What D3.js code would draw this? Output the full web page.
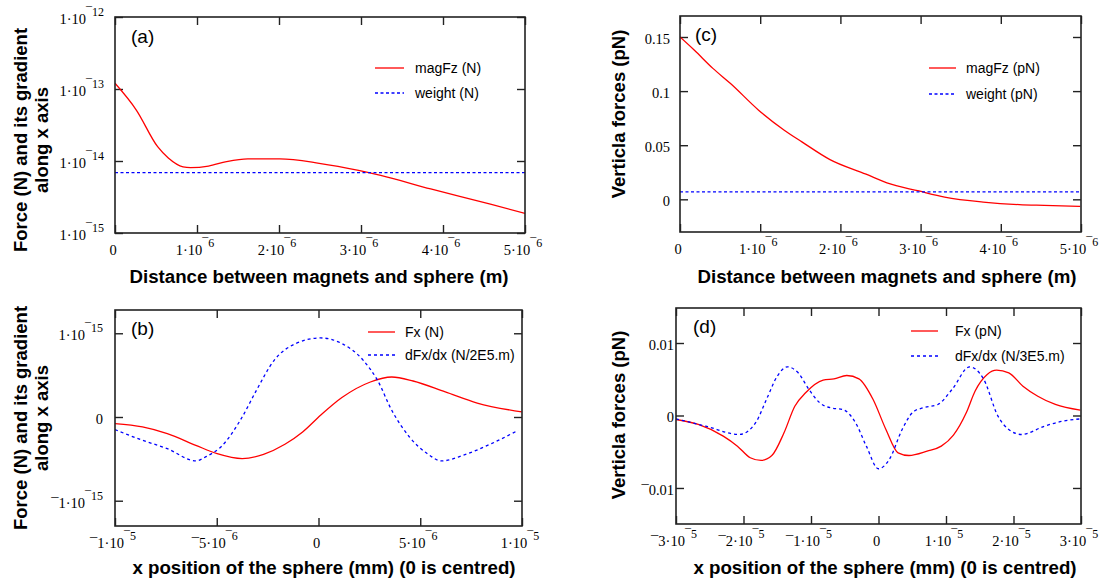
<!DOCTYPE html>
<html><head><meta charset="utf-8">
<script src="https://cdn.jsdelivr.net/npm/d3@7"></script>
<style>body{margin:0;background:#fff}svg{display:block}</style>
</head><body><svg id="c" width="1104" height="581"></svg>
<script>
// ---------- DATA ----------
// (a) magnetic vertical force vs distance (N, log axis)
const aDist = [0, 0.26e-6, 0.52e-6, 0.65e-6, 0.83e-6, 0.92e-6, 1.14e-6, 1.36e-6, 1.62e-6, 2.01e-6, 2.49e-6, 2.97e-6, 3.24e-6, 3.85e-6, 4.59e-6, 5.0e-6];
const aMagFz = [1.2e-13, 5.1e-14, 1.58e-14, 1.1e-14, 8.3e-15, 8.1e-15, 8.5e-15, 9.8e-15, 1.07e-14, 1.07e-14, 9.3e-15, 7.4e-15, 6.3e-15, 4.1e-15, 2.5e-15, 1.87e-15];
const aWeightDist = [0, 5e-6];
const aWeight = [6.9e-15, 6.9e-15];
const aXTicks = [0, 1e-6, 2e-6, 3e-6, 4e-6, 5e-6];
const aXLabels = [["0",""],["1·10","¯6"],["2·10","¯6"],["3·10","¯6"],["4·10","¯6"],["5·10","¯6"]];
const aYTicks = [1e-15, 1e-14, 1e-13, 1e-12];
const aYLabels = [["1·10","¯15"],["1·10","¯14"],["1·10","¯13"],["1·10","¯12"]];

// (b) Fx and dFx/dx vs x position (N)
const bXFx = [-10e-6, -8.65e-6, -7.43e-6, -6.03e-6, -4.98e-6, -3.75e-6, -2.70e-6, -1.65e-6, -0.78e-6, 0.10e-6, 1.15e-6, 2.55e-6, 3.60e-6, 4.65e-6, 6.23e-6, 7.80e-6, 9.99e-6];
const bFx = [-0.079e-15, -0.119e-15, -0.199e-15, -0.338e-15, -0.438e-15, -0.497e-15, -0.446e-15, -0.326e-15, -0.179e-15, 0.02e-15, 0.232e-15, 0.418e-15, 0.478e-15, 0.430e-15, 0.299e-15, 0.167e-15, 0.060e-15];
const bXGrad = [-10e-6, -8.65e-6, -7.43e-6, -6.03e-6, -5.50e-6, -4.80e-6, -3.75e-6, -3.05e-6, -2.18e-6, -1.12e-6, 0.10e-6, 1.15e-6, 2.20e-6, 2.90e-6, 3.60e-6, 4.47e-6, 5.35e-6, 6.05e-6, 7.10e-6, 8.50e-6, 9.81e-6];
const bGrad = [-0.151e-15, -0.278e-15, -0.378e-15, -0.525e-15, -0.470e-15, -0.358e-15, 0, 0.319e-15, 0.677e-15, 0.877e-15, 0.944e-15, 0.877e-15, 0.677e-15, 0.438e-15, 0.080e-15, -0.239e-15, -0.438e-15, -0.525e-15, -0.458e-15, -0.318e-15, -0.159e-15];
const bXTicks = [-1e-5, -5e-6, 0, 5e-6, 1e-5];
const bXLabels = [["¯1·10","¯5"],["¯5·10","¯6"],["0",""],["5·10","¯6"],["1·10","¯5"]];
const bYTicks = [-1e-15, 0, 1e-15];
const bYLabels = [["¯1·10","¯15"],["0",""],["1·10","¯15"]];

// (c) magnetic vertical force vs distance (pN)
const cDist = [0, 0.18e-6, 0.41e-6, 0.63e-6, 0.98e-6, 1.30e-6, 1.52e-6, 1.87e-6, 2.32e-6, 2.58e-6, 2.98e-6, 3.30e-6, 3.78e-6, 4.23e-6, 4.54e-6, 4.99e-6];
const cMagFz = [0.15, 0.1377, 0.121, 0.107, 0.0824, 0.0639, 0.0531, 0.0367, 0.0232, 0.0151, 0.0077, 0.0021, -0.0025, -0.0049, -0.0056, -0.0065];
const cWeightDist = [0, 5e-6];
const cWeight = [0.0068, 0.0068];
const cXTicks = [0, 1e-6, 2e-6, 3e-6, 4e-6, 5e-6];
const cXLabels = [["0",""],["1·10","¯6"],["2·10","¯6"],["3·10","¯6"],["4·10","¯6"],["5·10","¯6"]];
const cYTicks = [0, 0.05, 0.1, 0.15];
const cYLabels = [["0",""],["0.05",""],["0.1",""],["0.15",""]];

// (d) Fx and dFx/dx vs x position (pN)
const dXFx = [-3.0e-5, -2.67e-5, -2.30e-5, -2.09e-5, -1.90e-5, -1.74e-5, -1.58e-5, -1.40e-5, -1.24e-5, -1.08e-5, -0.82e-5, -0.66e-5, -0.47e-5, -0.29e-5, -0.08e-5, 0.11e-5, 0.29e-5, 0.45e-5, 0.72e-5, 0.93e-5, 1.11e-5, 1.30e-5, 1.43e-5, 1.61e-5, 1.75e-5, 1.93e-5, 2.14e-5, 2.36e-5, 2.62e-5, 2.99e-5];
const dFx = [-0.00055, -0.00124, -0.00285, -0.00423, -0.00583, -0.0062, -0.00552, -0.00239, 0.00128, 0.00313, 0.00487, 0.00506, 0.00552, 0.00506, 0.00221, -0.00193, -0.00515, -0.00552, -0.00492, -0.00423, -0.00271, 0.00037, 0.00335, 0.00566, 0.00625, 0.00589, 0.00404, 0.00266, 0.00152, 0.00073];
const dXGrad = [-3.0e-5, -2.56e-5, -2.06e-5, -1.82e-5, -1.66e-5, -1.50e-5, -1.35e-5, -1.19e-5, -1.03e-5, -0.87e-5, -0.71e-5, -0.53e-5, -0.34e-5, -0.18e-5, 0.0, 0.16e-5, 0.35e-5, 0.51e-5, 0.66e-5, 0.88e-5, 1.09e-5, 1.35e-5, 1.56e-5, 1.77e-5, 1.93e-5, 2.12e-5, 2.46e-5, 2.73e-5, 3.0e-5];
const dGrad = [-0.00046, -0.00147, -0.00262, -0.0010, 0.00221, 0.00542, 0.00671, 0.00589, 0.00359, 0.00175, 0.00106, 0.00083, -0.0010, -0.00423, -0.00735, -0.00607, -0.00193, 0.00046, 0.00106, 0.00152, 0.00359, 0.00671, 0.00497, -0.00009, -0.00193, -0.00262, -0.00147, -0.00078, -0.00046];
const dXTicks = [-3e-5, -2e-5, -1e-5, 0, 1e-5, 2e-5, 3e-5];
const dXLabels = [["¯3·10","¯5"],["¯2·10","¯5"],["¯1·10","¯5"],["0",""],["1·10","¯5"],["2·10","¯5"],["3·10","¯5"]];
const dYTicks = [-0.01, 0, 0.01];
const dYLabels = [["¯0.01",""],["0",""],["0.01",""]];

// ---------- DRAWING ----------
const svg = d3.select("#c");
const SERIF = "'Liberation Serif','Times New Roman',serif";
const SANS = "'Liberation Sans',Arial,sans-serif";
const RED = "#ff0000", BLUE = "#0000ff", FRAME = "#222";

function label(g, x, y, lab, anchor) {
  const t = g.append("text").attr("x", x).attr("y", y)
    .attr("font-family", SERIF).attr("font-size", 14.5).attr("fill", "#000")
    .attr("text-anchor", anchor);
  t.append("tspan").text(lab[0]);
  if (lab[1]) t.append("tspan").attr("dy", -8).attr("font-size", 12).text(lab[1]);
}

function drawPanel(p) {
  const g = svg.append("g");
  const [x0, x1] = p.xRange, [y0, y1] = p.yRange;
  const x = d3.scaleLinear().domain(p.xDomain).range([x0, x1]);
  const y = (p.log ? d3.scaleLog() : d3.scaleLinear()).domain(p.yDomain).range([y1, y0]);

  // inward ticks on all four sides
  const axes = [
    [d3.axisBottom(x).tickValues(p.xTicks), `translate(0,${y1})`],
    [d3.axisTop(x).tickValues(p.xTicks), `translate(0,${y0})`],
    [d3.axisLeft(y).tickValues(p.yTicks), `translate(${x0},0)`],
    [d3.axisRight(y).tickValues(p.yTicks), `translate(${x1},0)`]
  ];
  axes.forEach(([ax, tr]) => {
    const a = g.append("g").attr("transform", tr)
      .call(ax.tickSizeInner(-8).tickSizeOuter(0).tickFormat(""));
    a.select(".domain").remove();
    a.selectAll("line").attr("stroke", FRAME).attr("stroke-width", 1.4);
  });

  // series
  const clipId = "clip" + p.id;
  svg.append("clipPath").attr("id", clipId).append("rect")
    .attr("x", x0).attr("y", y0).attr("width", x1 - x0).attr("height", y1 - y0);
  p.series.forEach(s => {
    const pts = s.xs.map((v, i) => [v, s.ys[i]]);
    const line = d3.line().x(d => x(d[0])).y(d => y(d[1])).curve(d3.curveMonotoneX);
    g.append("path").attr("d", line(pts)).attr("fill", "none")
      .attr("stroke", s.color).attr("stroke-width", 1.3)
      .attr("stroke-dasharray", s.dash || null)
      .attr("clip-path", `url(#${clipId})`);
  });

  // frame
  g.append("rect").attr("x", x0).attr("y", y0).attr("width", x1 - x0).attr("height", y1 - y0)
    .attr("fill", "none").attr("stroke", FRAME).attr("stroke-width", 1.6);

  // tick labels
  p.xTicks.forEach((t, i) => label(g, x(t) - 2, y1 + 22, p.xLabels[i], "middle"));
  p.yTicks.forEach((t, i) => label(g, x0 - p.yLabelGap, y(t) + 7, p.yLabels[i], "end"));

  // panel tag
  g.append("text").attr("x", p.tag[1]).attr("y", p.tag[2]).attr("font-family", SANS)
    .attr("font-size", 19).text(p.tag[0]);

  // legend
  p.series.forEach((s, i) => {
    const ly = p.legend.y[i];
    g.append("line").attr("x1", p.legend.x0).attr("x2", p.legend.x1).attr("y1", ly).attr("y2", ly)
      .attr("stroke", s.color).attr("stroke-width", 1.3).attr("stroke-dasharray", s.dash || null);
    g.append("text").attr("x", p.legend.tx).attr("y", ly + 5).attr("font-family", SANS)
      .attr("font-size", 14).text(s.name);
  });

  // axis titles
  g.append("text").attr("x", p.xTitle[1]).attr("y", p.xTitle[2]).attr("text-anchor", "middle")
    .attr("font-family", SANS).attr("font-weight", "bold").attr("font-size", 18.7).text(p.xTitle[0]);
  p.yTitle.lines.forEach((ln, i) => {
    g.append("text").attr("transform", `translate(${p.yTitle.xs[i]},${p.yTitle.cy}) rotate(-90)`)
      .attr("text-anchor", "middle").attr("font-family", SANS).attr("font-weight", "bold")
      .attr("font-size", 18.5).text(ln);
  });
}

drawPanel({
  id: "a", xRange: [115, 525], yRange: [17, 233], xDomain: [0, 5e-6], yDomain: [1e-15, 1e-12], log: true,
  xTicks: aXTicks, xLabels: aXLabels, yTicks: aYTicks, yLabels: aYLabels, yLabelGap: 11,
  series: [
    { name: "magFz (N)", xs: aDist, ys: aMagFz, color: RED },
    { name: "weight (N)", xs: aWeightDist, ys: aWeight, color: BLUE, dash: "3,2.5" }
  ],
  legend: { x0: 375, x1: 404, tx: 415, y: [68, 93] },
  tag: ["(a)", 131, 43],
  xTitle: ["Distance between magnets and sphere (m)", 319, 283],
  yTitle: { lines: ["Force (N) and its gradient", "along x axis"], xs: [27, 48], cy: 140 }
});

drawPanel({
  id: "b", xRange: [115, 522], yRange: [310, 526], xDomain: [-1e-5, 1e-5], yDomain: [-1.302e-15, 1.278e-15], log: false,
  xTicks: bXTicks, xLabels: bXLabels, yTicks: bYTicks, yLabels: bYLabels, yLabelGap: 12,
  series: [
    { name: "Fx (N)", xs: bXFx, ys: bFx, color: RED },
    { name: "dFx/dx (N/2E5.m)", xs: bXGrad, ys: bGrad, color: BLUE, dash: "3,3" }
  ],
  legend: { x0: 368, x1: 395, tx: 405, y: [332, 355] },
  tag: ["(b)", 131, 335],
  xTitle: ["x position of the sphere (mm) (0 is centred)", 324, 574],
  yTitle: { lines: ["Force (N) and its gradient", "along x axis"], xs: [27, 48], cy: 418 }
});

drawPanel({
  id: "c", xRange: [680, 1081], yRange: [16, 232], xDomain: [0, 5e-6], yDomain: [-0.0302, 0.1694], log: false,
  xTicks: cXTicks, xLabels: cXLabels, yTicks: cYTicks, yLabels: cYLabels, yLabelGap: 10,
  series: [
    { name: "magFz (pN)", xs: cDist, ys: cMagFz, color: RED },
    { name: "weight (pN)", xs: cWeightDist, ys: cWeight, color: BLUE, dash: "3,2.5" }
  ],
  legend: { x0: 929, x1: 956, tx: 966, y: [68, 94] },
  tag: ["(c)", 695, 41],
  xTitle: ["Distance between magnets and sphere (m)", 887, 283],
  yTitle: { lines: ["Verticla forces (pN)"], xs: [625], cy: 114 }
});

drawPanel({
  id: "d", xRange: [676, 1081], yRange: [308, 524], xDomain: [-3e-5, 3e-5], yDomain: [-0.01497, 0.01483], log: false,
  xTicks: dXTicks, xLabels: dXLabels, yTicks: dYTicks, yLabels: dYLabels, yLabelGap: 2,
  series: [
    { name: "Fx (pN)", xs: dXFx, ys: dFx, color: RED },
    { name: "dFx/dx (N/3E5.m)", xs: dXGrad, ys: dGrad, color: BLUE, dash: "3,3" }
  ],
  legend: { x0: 911, x1: 938, tx: 955, y: [331, 356] },
  tag: ["(d)", 693, 333],
  xTitle: ["x position of the sphere (mm) (0 is centred)", 885, 574],
  yTitle: { lines: ["Verticla forces (pN)"], xs: [625], cy: 415 }
});
</script>
</body></html>
